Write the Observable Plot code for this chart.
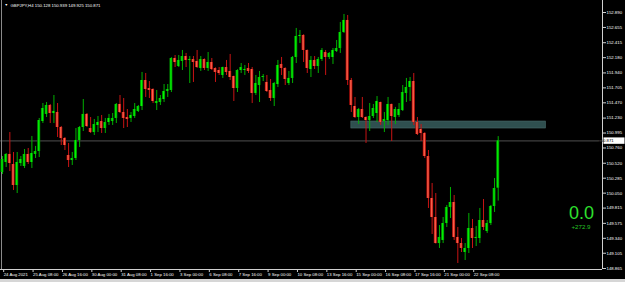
<!DOCTYPE html>
<html><head><meta charset="utf-8">
<script src="https://cdn.jsdelivr.net/npm/d3@7"></script>
<script src="https://cdn.jsdelivr.net/npm/@observablehq/plot@0.6"></script>
<style>
html,body{margin:0;padding:0;background:#000;}
#strip{height:3px;background:#d6d6d6;width:625px;}
</style></head><body>
<div id="chart"></div><div id="strip"></div>
<script>
const symbol = "GBPJPY";
const timeframe = "H4";
const tickLabels = ["24 Aug 2021","25 Aug 08:00","26 Aug 16:00","30 Aug 00:00","31 Aug 08:00","1 Sep 16:00","3 Sep 00:00","6 Sep 08:00","7 Sep 16:00","9 Sep 00:00","10 Sep 08:00","13 Sep 16:00","15 Sep 00:00","16 Sep 08:00","17 Sep 16:00","21 Sep 00:00","22 Sep 08:00"];
const barsPerTick = 8;
const yTicks = [152.890,152.655,152.415,152.180,151.940,151.705,151.470,151.230,150.995,150.760,150.520,150.285,150.050,149.815,149.575,149.340,149.105,148.865];

const open = [150.375,150.532,150.658,150.500,150.170,150.516,150.469,150.658,150.532,150.658,
150.705,151.176,151.287,151.428,151.302,151.318,151.082,150.909,150.642,150.563,
150.595,150.878,151.082,151.287,151.066,151.003,151.114,151.176,151.066,151.161,
151.176,151.224,151.444,151.318,151.239,151.224,151.255,151.334,151.412,151.821,
151.695,151.680,151.459,151.475,151.522,151.648,151.664,152.167,152.041,152.120,
152.198,152.136,152.151,152.120,152.010,152.151,152.010,152.104,152.010,151.978,
151.900,152.025,151.963,151.884,151.695,151.978,151.978,152.010,151.994,151.617,
151.742,151.868,151.790,151.664,151.538,151.758,152.073,152.010,151.774,151.853,
152.183,152.513,152.529,152.293,151.994,152.136,152.041,152.151,152.261,152.183,
152.183,152.277,152.324,152.576,152.765,151.821,151.412,151.239,151.365,151.239,
151.192,151.255,151.302,151.475,151.176,151.192,151.444,151.239,151.271,151.349,
151.617,151.711,151.805,151.161,151.051,150.988,150.626,149.966,149.667,149.258,
149.306,149.573,149.824,149.903,149.353,149.258,149.117,149.180,149.494,149.337,
149.337,149.620,149.447,149.573,149.840,150.128];
const high = [150.626,150.673,151.003,150.689,150.689,150.626,150.736,150.752,150.941,150.784,
151.224,151.459,151.475,151.444,151.585,151.459,151.098,150.925,150.831,150.689,
151.066,151.098,151.522,151.302,151.239,151.208,151.255,151.271,151.224,151.287,
151.302,151.459,151.585,151.538,151.365,151.318,151.459,151.428,151.947,151.931,
151.805,151.690,151.664,151.585,151.758,151.758,152.180,152.214,152.214,152.293,
152.246,152.198,152.198,152.293,152.198,152.160,152.261,152.167,152.020,152.025,
152.030,152.136,152.230,151.890,151.990,152.088,152.057,152.088,152.025,151.900,
151.963,151.915,151.900,151.837,151.790,152.136,152.183,152.020,151.963,152.198,
152.639,152.607,152.540,152.300,152.198,152.198,152.183,152.324,152.293,152.261,
152.324,152.450,152.733,152.859,152.843,151.853,151.554,151.381,151.554,151.250,
151.459,151.444,151.569,151.480,151.318,151.554,151.450,151.397,151.459,151.742,
151.853,151.868,151.931,151.239,151.129,151.000,150.720,150.202,150.044,149.541,
149.667,149.856,150.139,150.013,149.510,149.337,149.258,149.730,149.636,149.526,
149.809,149.950,149.620,149.856,150.280,150.939];
const low = [150.343,150.453,150.390,150.092,150.044,150.469,150.437,150.500,150.437,150.595,
150.610,151.145,151.239,151.145,151.145,150.925,150.799,150.720,150.453,150.485,
150.563,150.768,151.019,151.082,150.988,150.956,151.003,150.988,150.988,151.114,
151.114,151.145,151.302,151.066,151.082,151.161,151.224,151.318,151.349,151.554,
151.538,151.459,151.349,151.428,151.475,151.554,151.632,152.025,152.025,151.978,
152.025,151.774,151.790,152.010,151.963,151.978,151.963,151.978,151.790,151.900,
151.853,151.900,151.821,151.491,151.632,151.931,151.900,151.931,151.459,151.585,
151.475,151.805,151.632,151.491,151.412,151.711,151.900,151.742,151.742,151.774,
152.088,152.403,152.104,151.931,151.868,151.994,151.931,152.120,151.900,152.151,
152.073,152.261,152.246,152.560,151.742,151.318,151.224,151.129,151.224,150.831,
151.019,151.224,151.161,151.114,151.003,151.114,150.862,151.129,151.239,151.334,
151.475,151.491,151.114,150.956,150.862,150.595,149.809,149.400,149.250,149.180,
149.258,149.510,149.651,149.306,148.944,149.117,148.991,149.101,149.180,149.211,
149.258,149.463,149.416,149.541,149.746,149.925];
const close = [150.579,150.658,150.516,150.170,150.532,150.579,150.658,150.532,150.673,150.705,
151.192,151.381,151.428,151.302,151.334,151.082,150.909,150.799,150.563,150.595,
150.878,151.082,151.287,151.098,151.003,151.129,151.161,151.066,151.161,151.224,
151.224,151.444,151.318,151.224,151.208,151.271,151.365,151.412,151.821,151.680,
151.664,151.491,151.491,151.538,151.648,151.680,152.167,152.104,152.136,152.198,
152.136,152.151,152.104,152.025,152.151,152.010,152.104,151.994,151.947,151.931,
152.025,151.947,151.868,151.695,151.978,152.025,151.994,151.963,151.617,151.774,
151.868,151.884,151.648,151.538,151.774,152.057,152.010,151.837,151.853,152.183,
152.513,152.529,152.293,152.010,152.136,152.041,152.151,152.293,152.183,152.246,
152.293,152.324,152.576,152.765,151.821,151.428,151.239,151.365,151.239,151.192,
151.255,151.381,151.491,151.161,151.208,151.444,151.255,151.365,151.365,151.632,
151.711,151.805,151.161,150.972,150.988,150.626,149.966,149.667,149.258,149.353,
149.573,149.824,149.903,149.353,149.258,149.180,149.180,149.494,149.337,149.353,
149.620,149.510,149.573,149.840,150.123,150.871];

const zoneBars = [95, 148];
const zonePrices = [151.066, 151.176];
const infoValue = ["0.0"];
const infoProfit = ["+272.9"];

const bars = open.map((o, i) => ({i, o, h: high[i], l: low[i], c: close[i]}));
const up = bars.filter(d => d.c >= d.o);
const dn = bars.filter(d => d.c < d.o);
const last = bars[bars.length - 1];
const f3 = d3.format(".3f");
const titleStr = `${symbol},${timeframe} ${f3(last.o)} ${f3(last.h)} ${f3(last.l)} ${f3(last.c)}`;
const xDomain = [-0.545, 163.4];
const yDomain = [148.8495, 153.0787];
const font = "'Liberation Sans', Arial, sans-serif";
const fs = 4.3;
const minBody = 0.016;
const bodyTop = d => Math.max(d.o, d.c);
const bodyBot = d => Math.min(Math.min(d.o, d.c), Math.max(d.o, d.c) - minBody);

const chart = Plot.plot({
  width: 625, height: 279,
  marginTop: 0, marginBottom: 10, marginLeft: 0, marginRight: 23,
  style: {background: "#000", color: "#ffffff", fontFamily: font, overflow: "visible"},
  x: {type: "linear", domain: xDomain, axis: null},
  y: {domain: yDomain, axis: null},
  marks: [
    Plot.rect([zoneBars], {x1: d => d[0], x2: d => d[1], y1: () => zonePrices[0], y2: () => zonePrices[1], fill: "#2f4f4f", stroke: "#4a6b6b", strokeWidth: 0.6}),
    Plot.ruleY([last.c], {stroke: "#505050", strokeWidth: 1}),
    Plot.ruleX([xDomain[0]], {dx: 1, stroke: "#8a8a8a"}),
    Plot.ruleX(up, {x: "i", y1: "l", y2: "h", stroke: "#00b000", strokeWidth: 1}),
    Plot.ruleX(dn, {x: "i", y1: "l", y2: "h", stroke: "#c81414", strokeWidth: 1}),
    Plot.rect(up, {x1: d => d.i - 0.42, x2: d => d.i + 0.42, y1: bodyTop, y2: bodyBot, fill: "url(#gUp)"}),
    Plot.rect(dn, {x1: d => d.i - 0.42, x2: d => d.i + 0.42, y1: bodyTop, y2: bodyBot, fill: "url(#gDn)"}),
    Plot.ruleY([yDomain[0]], {stroke: "#d0d0d0"}),
    Plot.ruleX([xDomain[1]], {stroke: "#d0d0d0"}),
    Plot.axisY(yTicks, {anchor: "right", tickSize: 3, tickPadding: 1, tickFormat: f3, stroke: "#d0d0d0", fill: "#ffffff", fontSize: fs, label: null}),
    Plot.axisX(tickLabels.map((_, k) => k * barsPerTick), {anchor: "bottom", tickSize: 3, tickPadding: 0.6, tickFormat: d => tickLabels[d / barsPerTick], textAnchor: "start", dx: 1.2, stroke: "#d0d0d0", fill: "#ffffff", fontSize: fs, label: null}),
    Plot.text(["\u25BC"], {frameAnchor: "top-left", lineAnchor: "middle", dx: 4, dy: 4.2, fontSize: 3.6, fill: "#ffffff"}),
    Plot.text([titleStr], {frameAnchor: "top-left", lineAnchor: "middle", dx: 10, dy: 4.8, textAnchor: "start", fontSize: fs, fill: "#ffffff"}),
    Plot.text(infoValue, {frameAnchor: "top-right", lineAnchor: "middle", textAnchor: "middle", dx: -21, dy: 213, fontSize: 18, fill: "#2ee02e"}),
    Plot.text(infoProfit, {frameAnchor: "top-right", lineAnchor: "middle", textAnchor: "middle", dx: -21.5, dy: 226.5, fontSize: 6.2, fill: "#26c426"})
  ]
});

const svg = d3.select(chart);
svg.insert("defs", ":first-child").html(
  '<linearGradient id="gUp" x1="0" x2="1" y1="0" y2="0">' +
  '<stop offset="0" stop-color="#006e00"/><stop offset="0.5" stop-color="#00ff00"/><stop offset="1" stop-color="#006e00"/></linearGradient>' +
  '<linearGradient id="gDn" x1="0" x2="1" y1="0" y2="0">' +
  '<stop offset="0" stop-color="#b00000"/><stop offset="0.5" stop-color="#ff6a50"/><stop offset="1" stop-color="#b00000"/></linearGradient>'
);
const yPix = chart.scale("y").apply(last.c);
const xRight = chart.scale("x").range[1];
svg.append("rect").attr("x", xRight + 1.5).attr("y", yPix - 3).attr("width", 21).attr("height", 6.4).attr("fill", "#ffffff");
svg.append("text").attr("x", xRight + 4).attr("y", yPix).attr("dy", "0.35em")
  .attr("font-size", fs).attr("font-family", font).attr("fill", "#000").text(f3(last.c));

document.getElementById("chart").appendChild(chart);
</script>
</body></html>
